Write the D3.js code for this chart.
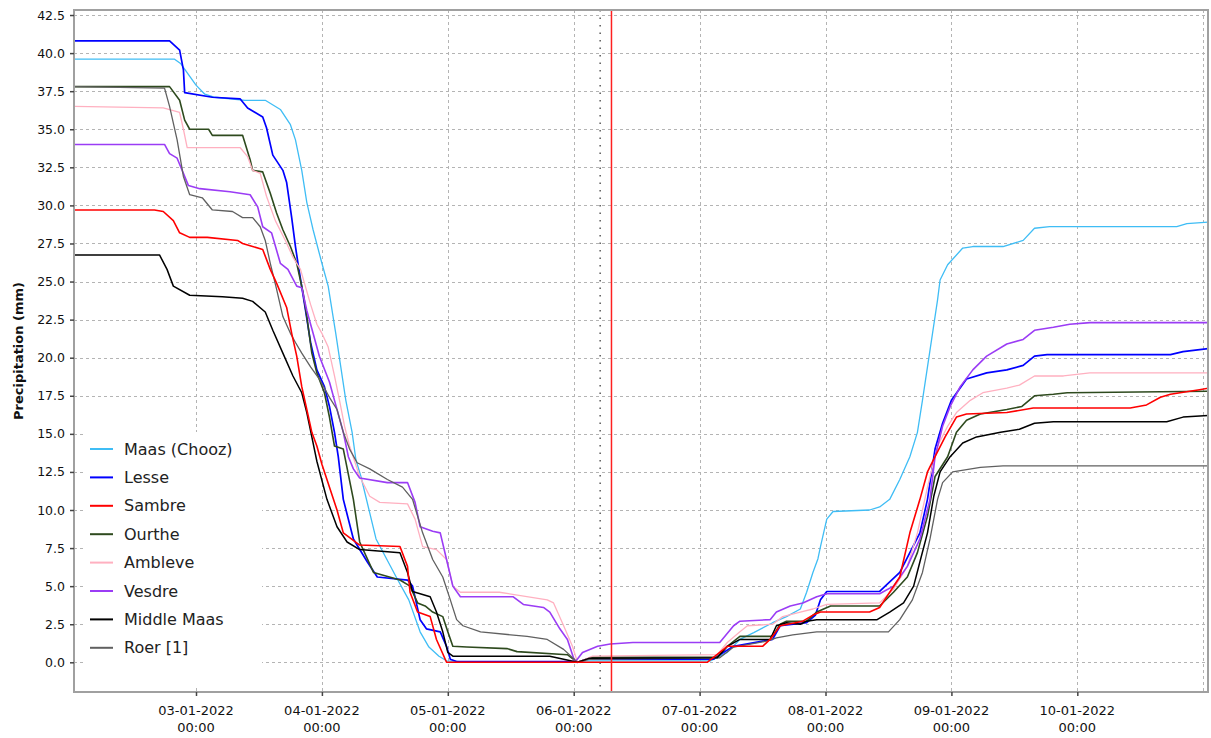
<!DOCTYPE html>
<html lang="en">
<head>
<meta charset="UTF-8">
<title>Precipitation</title>
<style>
  body { margin: 0; background: #fff; }
  svg { display: block; font-family: "DejaVu Sans", sans-serif; }
</style>
</head>
<body>
<svg width="1211" height="738"></svg>
<script src="https://d3js.org/d3.v7.min.js"></script>
<script>
// names and colours, legend order
var seriesNames = ["Maas (Chooz)", "Lesse", "Sambre", "Ourthe", "Ambleve", "Vesdre", "Middle Maas", "Roer [1]"];
var seriesColors = ["#3fbdf5", "#0000ff", "#ff0000", "#2e4a1e", "#ffb0c0", "#9b3cf5", "#000000", "#606060"];
var seriesWidths = [1.3, 1.7, 1.6, 1.6, 1.3, 1.6, 1.5, 1.3];

// [day of January 2022, mm]
var maasChooz = [[2.03,39.6],[2.83,39.6],[2.88,39.3],[3.00,37.9],[3.07,37.3],[3.15,37.1],[3.39,36.9],[3.55,36.9],[3.67,36.3],[3.75,35.3],[3.79,34.3],[3.84,32.3],[3.88,30.2],[3.93,28.4],[4.00,26.2],[4.05,24.7],[4.11,21.6],[4.15,19.4],[4.19,17.2],[4.24,15.1],[4.27,13.3],[4.31,12.2],[4.43,8.1],[4.59,5.6],[4.69,4.1],[4.78,2.0],[4.85,1.0],[4.93,0.4],[4.99,0.1],[5.10,0.05],[6.00,0.05],[6.03,0.0],[6.10,0.1],[7.09,0.1],[7.22,0.65],[7.32,1.5],[7.43,1.95],[7.58,2.6],[7.69,3.0],[7.80,3.5],[7.85,4.6],[7.90,5.9],[7.94,6.8],[7.96,7.6],[8.01,9.4],[8.06,9.9],[8.35,10.0],[8.43,10.2],[8.51,10.7],[8.59,12.0],[8.67,13.5],[8.73,15.1],[8.77,17.2],[8.81,19.4],[8.85,21.6],[8.89,23.8],[8.91,25.1],[8.97,26.1],[9.09,27.2],[9.17,27.3],[9.41,27.3],[9.57,27.7],[9.66,28.5],[9.78,28.6],[10.79,28.6],[10.87,28.8],[11.04,28.9]];

var lesse = [[2.03,40.8],[2.79,40.8],[2.87,40.2],[2.90,38.9],[2.91,37.4],[3.13,37.1],[3.35,37.0],[3.41,36.4],[3.53,35.8],[3.56,35.1],[3.61,33.3],[3.69,32.3],[3.72,31.5],[3.76,29.2],[3.79,27.3],[3.81,26.2],[3.87,23.1],[3.91,21.0],[3.96,19.2],[4.02,18.1],[4.06,16.8],[4.10,15.1],[4.13,13.5],[4.17,10.7],[4.25,8.1],[4.36,6.6],[4.44,5.6],[4.68,5.4],[4.72,5.0],[4.78,2.8],[4.83,2.2],[4.94,2.0],[4.99,1.05],[5.02,0.2],[5.07,0.05],[6.00,0.05],[6.03,0.0],[6.10,0.2],[7.11,0.2],[7.16,0.5],[7.27,1.05],[7.58,1.5],[7.64,2.4],[7.85,2.6],[7.92,3.1],[7.96,4.1],[8.01,4.65],[8.43,4.65],[8.59,5.9],[8.67,7.2],[8.75,8.5],[8.81,10.7],[8.87,14.0],[8.93,15.7],[9.00,17.2],[9.12,18.6],[9.28,19.0],[9.44,19.2],[9.57,19.5],[9.66,20.1],[9.76,20.2],[10.74,20.2],[10.84,20.4],[11.04,20.6]];

var sambre = [[2.03,29.7],[2.67,29.7],[2.74,29.6],[2.82,29.0],[2.87,28.2],[2.95,27.9],[3.09,27.9],[3.33,27.7],[3.37,27.5],[3.45,27.3],[3.53,27.1],[3.59,25.8],[3.64,24.9],[3.72,23.3],[3.76,21.6],[3.80,20.1],[3.84,18.1],[3.88,16.6],[3.92,15.1],[3.96,14.2],[4.00,13.0],[4.12,10.0],[4.17,8.5],[4.30,7.7],[4.62,7.6],[4.68,6.3],[4.70,4.6],[4.76,3.3],[4.86,3.0],[4.91,1.5],[4.99,0.0],[7.06,0.0],[7.16,0.65],[7.22,1.05],[7.50,1.05],[7.56,1.5],[7.64,2.4],[7.82,2.7],[7.90,3.1],[7.96,3.3],[8.35,3.3],[8.43,3.6],[8.59,5.6],[8.67,8.5],[8.75,10.7],[8.81,12.5],[8.87,13.5],[8.95,14.8],[9.04,16.1],[9.12,16.3],[9.44,16.4],[9.65,16.7],[10.42,16.7],[10.55,16.9],[10.66,17.4],[10.74,17.6],[10.97,17.9],[11.04,18.0]];

var ourthe = [[2.03,37.8],[2.79,37.8],[2.87,36.9],[2.91,35.6],[2.95,35.0],[3.10,35.0],[3.13,34.6],[3.37,34.6],[3.43,33.0],[3.45,32.3],[3.53,32.2],[3.59,30.8],[3.64,29.5],[3.69,28.4],[3.75,27.3],[3.80,26.2],[3.85,24.3],[3.88,22.7],[3.92,20.3],[3.96,19.0],[4.02,17.7],[4.06,16.1],[4.10,14.2],[4.17,14.0],[4.25,10.7],[4.30,7.9],[4.41,5.9],[4.62,5.4],[4.70,5.0],[4.76,3.9],[4.82,3.7],[4.88,3.3],[4.96,3.0],[5.00,2.0],[5.04,1.05],[5.15,1.0],[5.47,0.9],[5.55,0.7],[5.95,0.5],[6.03,0.0],[6.15,0.33],[7.14,0.35],[7.22,1.05],[7.32,1.7],[7.58,1.7],[7.64,2.5],[7.69,2.7],[7.85,2.7],[7.93,3.3],[8.04,3.7],[8.43,3.7],[8.54,4.6],[8.65,5.6],[8.73,7.2],[8.81,9.6],[8.87,12.2],[8.97,13.5],[9.04,15.1],[9.12,15.9],[9.23,16.3],[9.44,16.6],[9.56,16.8],[9.66,17.5],[9.81,17.6],[9.92,17.7],[11.04,17.8]];

var ambleve = [[2.03,36.5],[2.74,36.4],[2.87,36.1],[2.90,35.0],[2.93,33.8],[3.35,33.8],[3.41,33.2],[3.45,32.3],[3.51,32.1],[3.56,30.6],[3.63,29.0],[3.71,27.7],[3.77,26.6],[3.83,25.8],[3.91,23.5],[3.96,22.2],[4.00,21.6],[4.05,20.7],[4.10,18.8],[4.14,17.2],[4.18,15.5],[4.22,14.2],[4.30,12.2],[4.38,10.9],[4.46,10.5],[4.68,10.4],[4.74,9.4],[4.80,7.6],[4.91,7.4],[4.99,6.75],[5.04,5.0],[5.10,4.6],[5.41,4.6],[5.79,4.1],[5.84,3.9],[5.92,2.4],[5.99,1.05],[6.03,0.0],[6.15,0.4],[7.14,0.5],[7.22,1.3],[7.32,2.0],[7.38,2.4],[7.58,2.5],[7.66,3.0],[7.80,3.3],[7.90,3.5],[8.01,3.8],[8.43,3.9],[8.54,4.8],[8.65,6.3],[8.73,8.5],[8.81,11.5],[8.89,14.2],[8.97,15.5],[9.04,16.4],[9.15,17.2],[9.25,17.7],[9.44,18.0],[9.54,18.2],[9.66,18.8],[9.89,18.8],[10.10,19.0],[11.04,19.0]];

var vesdre = [[2.03,34.0],[2.75,34.0],[2.79,33.4],[2.85,33.1],[2.90,32.1],[2.94,31.3],[3.03,31.1],[3.27,30.9],[3.43,30.7],[3.49,29.9],[3.53,28.6],[3.60,28.2],[3.67,26.2],[3.73,25.8],[3.80,24.7],[3.84,24.6],[3.88,23.1],[3.93,21.6],[3.98,20.1],[4.06,18.4],[4.10,17.2],[4.17,15.1],[4.21,13.5],[4.25,12.7],[4.30,12.1],[4.52,11.8],[4.68,11.8],[4.74,10.5],[4.78,8.9],[4.88,8.6],[4.94,8.5],[4.99,6.75],[5.04,5.0],[5.10,4.3],[5.52,4.3],[5.60,3.8],[5.76,3.6],[5.81,3.3],[5.89,2.2],[5.95,1.5],[6.01,0.0],[6.07,0.65],[6.19,1.05],[6.29,1.2],[6.47,1.3],[7.16,1.3],[7.27,2.4],[7.32,2.7],[7.56,2.8],[7.61,3.3],[7.72,3.7],[7.82,3.9],[7.93,4.3],[8.01,4.5],[8.43,4.5],[8.54,5.0],[8.65,6.3],[8.75,8.1],[8.83,10.7],[8.87,13.5],[8.93,15.5],[8.99,16.8],[9.07,18.1],[9.17,19.2],[9.28,20.1],[9.44,20.9],[9.57,21.2],[9.66,21.8],[9.81,22.0],[9.94,22.2],[10.10,22.3],[11.04,22.3]];

var middleMaas = [[2.03,26.75],[2.71,26.75],[2.77,25.8],[2.82,24.7],[2.95,24.1],[3.21,24.0],[3.37,23.9],[3.45,23.7],[3.55,23.0],[3.61,21.8],[3.69,20.3],[3.77,18.8],[3.84,17.7],[3.88,16.4],[3.92,14.8],[3.96,13.2],[4.04,10.7],[4.12,8.9],[4.20,7.9],[4.30,7.4],[4.62,7.2],[4.68,5.9],[4.72,4.65],[4.86,4.3],[4.91,3.3],[4.96,2.0],[5.00,0.65],[5.04,0.4],[5.81,0.4],[6.03,0.0],[6.12,0.26],[7.14,0.3],[7.22,1.05],[7.32,1.5],[7.56,1.5],[7.61,2.4],[7.69,2.6],[7.80,2.5],[7.85,2.7],[7.93,2.8],[8.41,2.8],[8.51,3.3],[8.62,3.9],[8.70,5.0],[8.75,6.6],[8.81,8.5],[8.86,10.9],[8.91,12.5],[8.99,13.5],[9.09,14.4],[9.20,14.8],[9.39,15.1],[9.54,15.3],[9.66,15.7],[9.81,15.8],[10.71,15.8],[10.84,16.1],[11.04,16.2]];

var roer = [[2.03,37.8],[2.75,37.7],[2.79,36.5],[2.85,34.3],[2.90,31.9],[2.95,30.7],[3.05,30.5],[3.13,29.7],[3.29,29.6],[3.37,29.2],[3.45,29.2],[3.51,28.6],[3.55,27.7],[3.59,26.2],[3.64,24.5],[3.69,22.7],[3.75,21.6],[3.79,21.0],[3.84,20.3],[3.91,19.4],[3.98,18.6],[4.06,17.4],[4.12,16.6],[4.17,15.1],[4.22,14.0],[4.28,13.1],[4.38,12.7],[4.52,12.0],[4.64,11.5],[4.72,10.7],[4.80,8.5],[4.88,6.75],[4.96,5.6],[5.02,4.1],[5.07,2.8],[5.12,2.4],[5.26,2.0],[5.63,1.7],[5.79,1.5],[5.92,0.85],[6.03,0.0],[6.12,0.2],[7.16,0.3],[7.27,1.0],[7.54,1.4],[7.61,1.6],[7.74,1.8],[7.93,2.0],[8.50,2.0],[8.59,2.8],[8.69,4.1],[8.77,5.9],[8.83,8.1],[8.89,10.7],[8.93,11.8],[9.01,12.5],[9.23,12.8],[9.41,12.9],[11.04,12.9]];

var seriesData = [maasChooz, lesse, sambre, ourthe, ambleve, vesdre, middleMaas, roer];

// axes
var yTicks = [0.0, 2.5, 5.0, 7.5, 10.0, 12.5, 15.0, 17.5, 20.0, 22.5, 25.0, 27.5, 30.0, 32.5, 35.0, 37.5, 40.0, 42.5];
var xTickDays = [3, 4, 5, 6, 7, 8, 9, 10];
var xGridDays = [3, 4, 5, 6, 7, 8, 9, 10, 11];
var dottedMarkerDay = 6.21;
var redMarkerDay = 6.30;

var svg = d3.select("svg");
var plotLeft = 74, plotRight = 1208, plotTop = 10, plotBottom = 692;

function toDate(d) { return new Date(Date.UTC(2022, 0, 1) + (d - 1) * 864e5); }

var x = d3.scaleUtc().domain([toDate(2.031), toDate(11.038)]).range([plotLeft, plotRight]);
var y = d3.scaleLinear().domain([-1.95, 42.83]).range([plotBottom, plotTop]);

svg.append("defs").append("clipPath").attr("id", "plot")
    .append("rect").attr("x", plotLeft).attr("y", plotTop)
    .attr("width", plotRight - plotLeft).attr("height", plotBottom - plotTop);

// grid
svg.append("g").selectAll("line").data(yTicks).enter().append("line")
    .attr("x1", plotLeft).attr("x2", plotRight)
    .attr("y1", d => Math.round(y(d)) + 0.5).attr("y2", d => Math.round(y(d)) + 0.5)
    .attr("stroke", "#b4b4b4").attr("stroke-dasharray", "3,3");

svg.append("g").selectAll("line").data(xGridDays).enter().append("line")
    .attr("x1", d => Math.round(x(toDate(d))) + 0.5).attr("x2", d => Math.round(x(toDate(d))) + 0.5)
    .attr("y1", plotTop).attr("y2", plotBottom)
    .attr("stroke", "#b4b4b4").attr("stroke-dasharray", "3,3");

// markers
svg.append("line")
    .attr("x1", x(toDate(dottedMarkerDay))).attr("x2", x(toDate(dottedMarkerDay)))
    .attr("y1", plotTop).attr("y2", plotBottom)
    .attr("stroke", "#404040").attr("stroke-width", 1.3).attr("stroke-dasharray", "1.5,6");

// series
var line = d3.line()
    .x(d => x(toDate(d[0])))
    .y(d => y(d[1]));

var order = [0, 1, 3, 4, 5, 7, 6, 2];
svg.append("g").attr("clip-path", "url(#plot)")
    .selectAll("path").data(order).enter().append("path")
    .attr("d", i => line(seriesData[i]))
    .attr("fill", "none")
    .attr("stroke", i => seriesColors[i])
    .attr("stroke-width", i => seriesWidths[i])
    .attr("stroke-linejoin", "round");

svg.append("line")
    .attr("x1", x(toDate(redMarkerDay))).attr("x2", x(toDate(redMarkerDay)))
    .attr("y1", plotTop).attr("y2", plotBottom)
    .attr("stroke", "#ff2020").attr("stroke-width", 1.5);

// legend
var legend = svg.append("g");
legend.append("rect")
    .attr("x", 84).attr("y", 432).attr("width", 178).attr("height", 256)
    .attr("fill", "#fff");

var item = legend.selectAll(".legend-item").data(seriesNames).enter()
    .append("g")
    .attr("class", "legend-item")
    .attr("transform", (d, i) => "translate(90," + (449 + i * 28.4) + ")");

item.append("line")
    .attr("x1", 0).attr("x2", 23)
    .attr("stroke", (d, i) => seriesColors[i])
    .attr("stroke-width", 2);

item.append("text")
    .attr("x", 34).attr("y", 5.5)
    .style("font-size", "16px")
    .attr("fill", "#222")
    .text(d => d);

// frame
svg.append("rect")
    .attr("x", plotLeft).attr("y", plotTop)
    .attr("width", plotRight - plotLeft).attr("height", plotBottom - plotTop)
    .attr("fill", "none").attr("stroke", "#a0a0a0").attr("stroke-width", 2);

// y axis
var yAxis = svg.append("g")
    .attr("transform", "translate(" + plotLeft + ",0)")
    .call(d3.axisLeft(y).tickValues(yTicks).tickFormat(d3.format(".1f")).tickSize(4).tickPadding(5));
yAxis.select(".domain").remove();
yAxis.selectAll(".tick line").attr("stroke", "#444").attr("stroke-width", 1.5);
yAxis.selectAll("text").style("font-size", "12.5px").attr("fill", "#111").attr("font-family", "DejaVu Sans");

// x axis
var xAxis = svg.append("g")
    .attr("transform", "translate(0," + plotBottom + ")")
    .call(d3.axisBottom(x).tickValues(xTickDays.map(toDate)).tickSize(4).tickFormat(""));
xAxis.select(".domain").remove();
xAxis.selectAll(".tick line").attr("stroke", "#444").attr("stroke-width", 1.5);

var fmtDate = d3.utcFormat("%d-%m-%Y");
var fmtTime = d3.utcFormat("%H:%M");
var xLabel = svg.append("g").selectAll("text").data(xTickDays).enter().append("text")
    .attr("text-anchor", "middle")
    .style("font-size", "13px")
    .attr("fill", "#111");
xLabel.append("tspan")
    .attr("x", d => x(toDate(d))).attr("y", 715)
    .text(d => fmtDate(toDate(d)));
xLabel.append("tspan")
    .attr("x", d => x(toDate(d))).attr("y", 732)
    .text(d => fmtTime(toDate(d)));

// y title
svg.append("text")
    .attr("transform", "rotate(-90)")
    .attr("x", -(plotTop + plotBottom) / 2).attr("y", 23)
    .attr("text-anchor", "middle")
    .style("font-size", "13px")
    .style("font-weight", "bold")
    .attr("fill", "#111")
    .text("Precipitation (mm)");
</script>
</body>
</html>
